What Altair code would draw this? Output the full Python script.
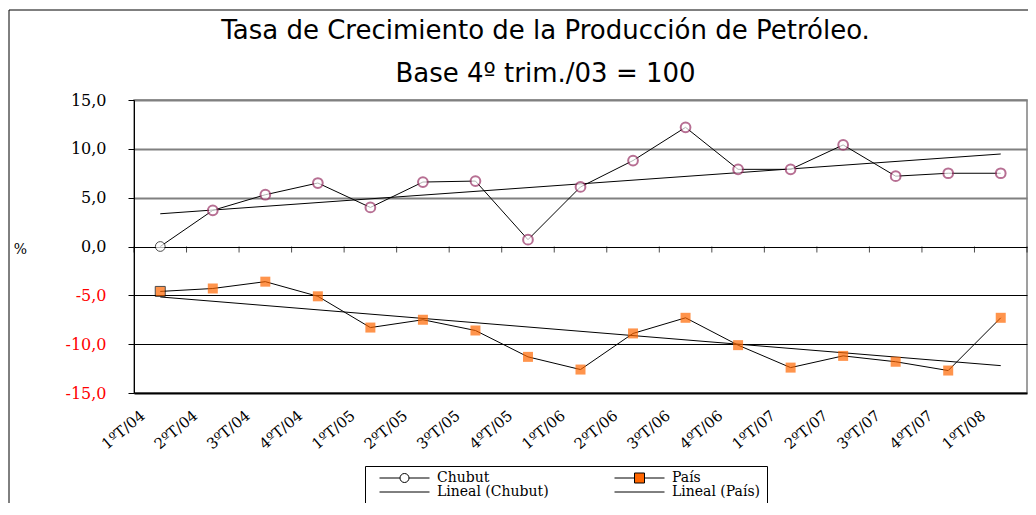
import altair as alt
import pandas as pd

categories = ["1ºT/04", "2ºT/04", "3ºT/04", "4ºT/04", "1ºT/05", "2ºT/05", "3ºT/05",
              "4ºT/05", "1ºT/06", "2ºT/06", "3ºT/06", "4ºT/06", "1ºT/07", "2ºT/07",
              "3ºT/07", "4ºT/07", "1ºT/08"]
chubut = [0.0, 3.7, 5.3, 6.5, 4.0, 6.6, 6.7, 0.7, 6.1, 8.8, 12.2, 7.9, 7.9, 10.4, 7.2, 7.5, 7.5]
pais = [-4.6, -4.3, -3.6, -5.1, -8.3, -7.5, -8.6, -11.3, -12.6, -8.9, -7.3, -10.1, -12.4,
        -11.2, -11.8, -12.7, -7.3]
y_ticks = [-15, -10, -5, 0, 5, 10, 15]
legend_names = ["Chubut", "País", "Lineal (Chubut)", "Lineal (País)"]
title_lines = ["Tasa de Crecimiento de la Producción de Petróleo.", "Base 4º trim./03 = 100"]

rows = []
for i, c in enumerate(categories):
    rows.append({"idx": i, "cat": c, "serie": "Chubut", "val": chubut[i]})
    rows.append({"idx": i, "cat": c, "serie": "País", "val": pais[i]})
df = pd.DataFrame(rows)

n = len(categories)
ticks_df = pd.DataFrame({"idx": [k - 0.5 for k in range(n + 1)], "val": [0.0] * (n + 1)})

label_arr = "[" + ",".join("'" + c + "'" for c in categories) + "]"


def xenc():
    return alt.X(
        "idx:Q",
        scale=alt.Scale(domain=[-0.5, n - 0.5], nice=False, zero=False),
        axis=alt.Axis(values=list(range(n)), labelExpr=label_arr + "[datum.value]",
                      title=None, grid=False, ticks=False, tickSize=0, domain=False,
                      labelAngle=-40, labelAlign="right", labelBaseline="middle",
                      labelPadding=20, labelOffset=-18, labelFont="DejaVu Serif",
                      labelFontSize=15, labelColor="black", labelOverlap=False,
                      labelFlush=False),
    )


def yenc():
    return alt.Y(
        "val:Q",
        scale=alt.Scale(domain=[-15, 15], nice=False, zero=False),
        axis=alt.Axis(values=y_ticks,
                      labelExpr="(datum.value < 0 ? '-' : '') + replace(format(abs(datum.value), '.1f'), '.', ',')",
                      title="%", titleAngle=0, titleX=-114, titleY=149, titleAlign="center",
                      titleBaseline="middle", titleFont="DejaVu Serif", titleFontSize=14,
                      titleFontWeight="normal", titleColor="black",
                      grid=True,
                      gridColor={"condition": {"test": "datum.value > 0", "value": "#808080"}, "value": "black"},
                      gridWidth={"condition": {"test": "datum.value > 0 || datum.value == -15", "value": 2}, "value": 1},
                      tickSize=6, tickColor="black", domainColor="black",
                      labelPadding=22, labelFont="DejaVu Serif", labelFontSize=16,
                      labelColor={"condition": {"test": "datum.value < 0", "value": "#FF0000"}, "value": "black"}),
    )


base = alt.Chart(df)

tick_layer = alt.Chart(ticks_df).mark_tick(orient="vertical", size=6, thickness=1,
                                            color="black", yOffset=3).encode(x=xenc(), y=yenc())

trend = base.transform_regression("idx", "val", groupby=["serie"]).mark_line(
    color="black", strokeWidth=1).encode(x=xenc(), y=yenc(), detail="serie:N")

lines = base.mark_line(color="black", strokeWidth=1).encode(x=xenc(), y=yenc(), detail="serie:N")

chubut_pts = base.transform_filter("datum.serie == 'Chubut'").mark_point(
    shape="circle", filled=True, fill="white", size=95).encode(
    x=xenc(), y=yenc(),
    stroke=alt.condition("datum.idx == 0", alt.value("black"), alt.value("#993366")),
    strokeWidth=alt.condition("datum.idx == 0", alt.value(1), alt.value(2)),
)

pais_pts = base.transform_filter("datum.serie == 'País'").mark_point(
    shape="square", filled=True, fill="#FF6600", size=100).encode(
    x=xenc(), y=yenc(),
    stroke=alt.condition("datum.idx == 0", alt.value("black"), alt.value("#FF6600")),
    strokeWidth=alt.condition("datum.idx == 0", alt.value(1), alt.value(0)),
)

r = 0.18
s = 0.2
circle_path = (f"M-1,0L-{r},0M{r},0L1,0M{r},0A{r},{r},0,1,1,-{r},0A{r},{r},0,1,1,{r},0Z")
square_path = (f"M-1,0L-{s},0M{s},0L1,0M-{s},-{s}L{s},-{s}L{s},{s}L-{s},{s}Z")
line_path = "M-1,0L1,0"
paths = [circle_path, square_path, line_path, line_path]
fills = ["white", "#FF6600", "transparent", "transparent"]
strokes = ["black", "black", "black", "black"]


def leg():
    return alt.Legend(title=None, orient="none", legendX=231, legendY=366, columns=2,
                      direction="horizontal",
                      columnPadding=57, rowPadding=0, clipHeight=12, symbolSize=2500,
                      symbolStrokeWidth=1, symbolOpacity=1,
                      labelFont="DejaVu Serif", labelFontSize=14, labelColor="black",
                      labelOffset=7, strokeColor="black", padding=6, fillColor="white",
                      symbolOffset=8)


legend_layer = alt.Chart(pd.DataFrame({"serie": legend_names})).transform_filter(
    "datum.serie == 'none'").mark_point(filled=True).encode(
    shape=alt.Shape("serie:N", scale=alt.Scale(domain=legend_names, range=paths), legend=leg()),
    fill=alt.Fill("serie:N", scale=alt.Scale(domain=legend_names, range=fills), legend=leg()),
    stroke=alt.Stroke("serie:N", scale=alt.Scale(domain=legend_names, range=strokes), legend=leg()),
)

frame_df = pd.DataFrame({"k": [0]})
frame_top = alt.Chart(frame_df).mark_rule(color="black", strokeWidth=1, clip=False).encode(
    x=alt.value(-125), x2=alt.value(1100), y=alt.value(-90))
frame_left = alt.Chart(frame_df).mark_rule(color="black", strokeWidth=1, clip=False).encode(
    x=alt.value(-125), y=alt.value(-90), y2=alt.value(600))

chart = alt.layer(frame_top, frame_left, tick_layer, trend, lines, chubut_pts, pais_pts,
                  legend_layer).properties(
    width=893, height=293,
    autosize=alt.AutoSizeParams(type="none"),
    padding={"left": 126, "top": 92, "right": 1, "bottom": 110},
    title=alt.TitleParams(title_lines, font="DejaVu Sans", fontSize=26, fontWeight="normal",
                          color="black", anchor="middle", frame="group", dx=-35, dy=111,
                          lineHeight=43, offset=8, baseline="bottom"),
).configure_view(stroke="#808080", strokeWidth=1.5)

chart.save("out.html", embed_options={"renderer": "svg", "actions": False})
